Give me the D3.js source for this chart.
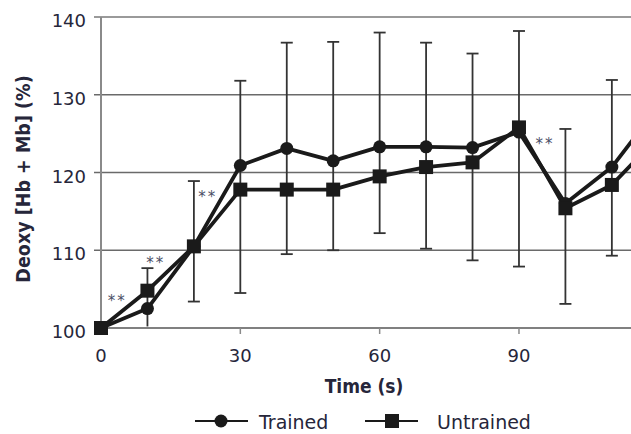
<!DOCTYPE html>
<html>
<head>
<meta charset="utf-8">
<script src="https://cdn.jsdelivr.net/npm/d3@7"></script>
<style>
  body { margin: 0; background: #fff; }
  svg text { font-family: "DejaVu Sans", sans-serif; fill: #26263a; }
</style>
</head>
<body>
<div id="chart"></div>
<script>
// time points (s)
const times = [0, 10, 20, 30, 40, 50, 60, 70, 80, 90, 100, 110, 120];
// mean Deoxy[Hb+Mb] (%)
const trained   = [100, 102.5, 110.5, 120.9, 123.1, 121.5, 123.3, 123.3, 123.2, 125.2, 116.0, 120.7, 128.5];
const untrained = [100, 104.8, 110.5, 117.8, 117.8, 117.8, 119.5, 120.7, 121.3, 125.8, 115.4, 118.4, 124.6];
// whisker ends (upper / lower SD)
const errHigh = [null, 107.7, 118.9, 131.8, 136.7, 136.8, 138.0, 136.7, 135.3, 138.2, 125.6, 131.9, null];
const errLow  = [null, 100.2, 103.4, 104.5, 109.5, 110.0, 112.2, 110.2, 108.7, 107.9, 103.1, 109.3, null];
// significance marks (**)
const sigTimes  = [3.5, 11.8, 23, 95.6];
const sigValues = [103.9, 108.7, 117.2, 124.0];

const yTicks = [100, 110, 120, 130, 140];
const xTicks = [0, 30, 60, 90];

const width = 631, height = 434;

const svg = d3.select('#chart').append('svg')
    .attr('width', width)
    .attr('height', height);

svg.append('rect').attr('width', width).attr('height', height).attr('fill', '#fff');

const x = d3.scaleLinear().domain([0, 120]).range([101, 658.3]);
const y = d3.scaleLinear().domain([100, 140]).range([328, 17]);

// gridlines
svg.append('g')
    .selectAll('line')
    .data(yTicks)
    .enter()
    .append('line')
    .attr('x1', 94)
    .attr('x2', width)
    .attr('y1', d => y(d))
    .attr('y2', d => y(d))
    .attr('stroke', d => d === 140 ? '#9a9a9a' : (d === 100 ? '#808080' : '#6a6a6a'))
    .attr('stroke-width', d => (d === 140 || d === 100) ? 2 : 1.3);

// left axis
svg.append('line')
    .attr('x1', x(0)).attr('x2', x(0))
    .attr('y1', y(140)).attr('y2', y(100) + 2)
    .attr('stroke', '#8a8a8a')
    .attr('stroke-width', 2);

// x ticks
svg.append('g')
    .selectAll('line')
    .data(xTicks.filter(d => d > 0))
    .enter()
    .append('line')
    .attr('x1', d => x(d)).attr('x2', d => x(d))
    .attr('y1', y(100)).attr('y2', y(100) + 6)
    .attr('stroke', '#8a8a8a')
    .attr('stroke-width', 1.5);

// tick labels
svg.append('g')
    .selectAll('text')
    .data(yTicks)
    .enter()
    .append('text')
    .attr('x', 86)
    .attr('y', d => y(d) + 10)
    .attr('text-anchor', 'end')
    .style('font-size', '18px')
    .text(d => d);

svg.append('g')
    .selectAll('text')
    .data(xTicks)
    .enter()
    .append('text')
    .attr('x', d => x(d))
    .attr('y', 362)
    .attr('text-anchor', 'middle')
    .style('font-size', '18px')
    .text(d => d);

// axis titles
svg.append('text')
    .attr('transform', 'translate(30,179) rotate(-90)')
    .attr('text-anchor', 'middle')
    .style('font-family', '"DejaVu Sans Condensed", "DejaVu Sans", sans-serif')
    .style('font-weight', 'bold')
    .style('font-size', '19.5px')
    .text('Deoxy [Hb + Mb] (%)');

svg.append('text')
    .attr('x', 364)
    .attr('y', 393)
    .attr('text-anchor', 'middle')
    .style('font-family', '"DejaVu Sans Condensed", "DejaVu Sans", sans-serif')
    .style('font-weight', 'bold')
    .style('font-size', '19px')
    .text('Time (s)');

// error bars
const bars = times.map((t, i) => ({ t, hi: errHigh[i], lo: errLow[i] }))
    .filter(d => d.hi !== null);

const eb = svg.append('g').attr('stroke', '#333').attr('stroke-width', 1.8);
eb.selectAll('line.v')
    .data(bars).enter().append('line')
    .attr('class', 'v')
    .attr('x1', d => x(d.t)).attr('x2', d => x(d.t))
    .attr('y1', d => y(d.hi)).attr('y2', d => y(d.lo));
eb.selectAll('line.hi')
    .data(bars).enter().append('line')
    .attr('class', 'hi')
    .attr('x1', d => x(d.t) - 6).attr('x2', d => x(d.t) + 6)
    .attr('y1', d => y(d.hi)).attr('y2', d => y(d.hi));
eb.selectAll('line.lo')
    .data(bars.filter(d => d.lo > 100.5)).enter().append('line')
    .attr('class', 'lo')
    .attr('x1', d => x(d.t) - 6).attr('x2', d => x(d.t) + 6)
    .attr('y1', d => y(d.lo)).attr('y2', d => y(d.lo));

// series lines
const line = d3.line().x(d => x(d[0])).y(d => y(d[1]));
const trainedPts = times.map((t, i) => [t, trained[i]]);
const untrainedPts = times.map((t, i) => [t, untrained[i]]);

[untrainedPts, trainedPts].forEach(pts => {
    svg.append('path')
        .datum(pts)
        .attr('d', line)
        .attr('fill', 'none')
        .attr('stroke', '#1a1a1a')
        .attr('stroke-width', 3.8)
        .attr('stroke-linejoin', 'round');
});

svg.append('g')
    .selectAll('circle')
    .data(trainedPts)
    .enter()
    .append('circle')
    .attr('cx', d => x(d[0]))
    .attr('cy', d => y(d[1]))
    .attr('r', 6.5)
    .attr('fill', '#1a1a1a');

svg.append('g')
    .selectAll('rect')
    .data(untrainedPts)
    .enter()
    .append('rect')
    .attr('x', d => x(d[0]) - 7)
    .attr('y', d => y(d[1]) - 7)
    .attr('width', 14)
    .attr('height', 14)
    .attr('fill', '#1a1a1a');

// significance asterisks
svg.append('g')
    .selectAll('text')
    .data(sigTimes.map((t, i) => [t, sigValues[i]]))
    .enter()
    .append('text')
    .attr('x', d => x(d[0]))
    .attr('y', d => y(d[1]) + 8)
    .attr('text-anchor', 'middle')
    .style('font-size', '15px')
    .style('letter-spacing', '2px')
    .style('fill', '#4a4e66')
    .text('**');

// legend
const legend = svg.append('g').attr('transform', 'translate(0,421)');
legend.append('line').attr('x1', 195).attr('x2', 248).attr('stroke', '#1a1a1a').attr('stroke-width', 2);
legend.append('circle').attr('cx', 221).attr('r', 6.5).attr('fill', '#1a1a1a');
legend.append('text').attr('x', 259).attr('y', 8).style('font-size', '19px').text('Trained');

legend.append('line').attr('x1', 365).attr('x2', 418).attr('stroke', '#1a1a1a').attr('stroke-width', 2);
legend.append('rect').attr('x', 385).attr('y', -7).attr('width', 14).attr('height', 14).attr('fill', '#1a1a1a');
legend.append('text').attr('x', 437).attr('y', 8).style('font-size', '19px').text('Untrained');
</script>
</body>
</html>
